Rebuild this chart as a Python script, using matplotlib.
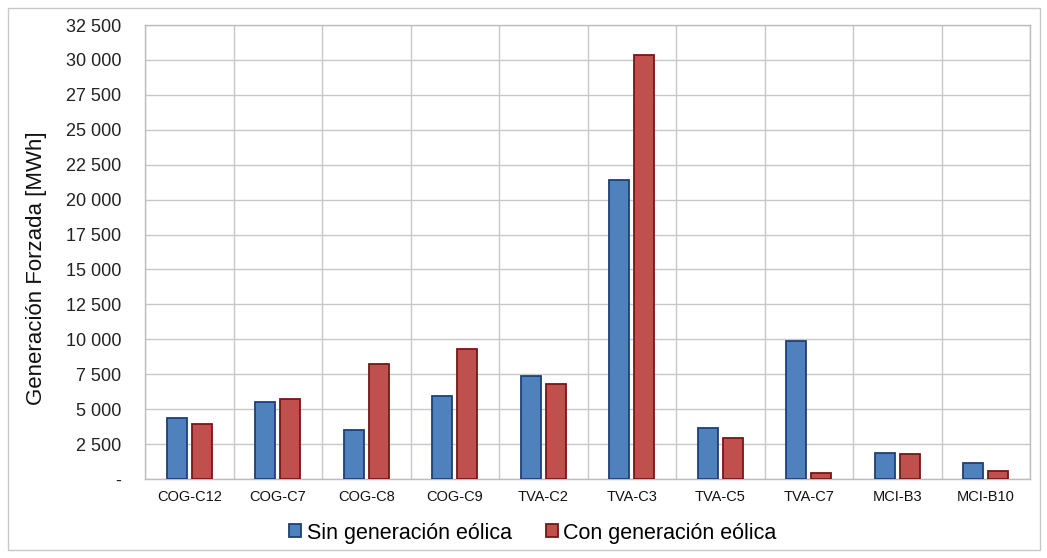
import matplotlib
matplotlib.use("Agg")
import matplotlib.pyplot as plt
import numpy as np
from matplotlib.patches import Rectangle
from matplotlib.ticker import FuncFormatter, MultipleLocator

categories = ["COG-C12", "COG-C7", "COG-C8", "COG-C9", "TVA-C2", "TVA-C3",
              "TVA-C5", "TVA-C7", "MCI-B3", "MCI-B10"]
sin_eolica = [4380, 5510, 3510, 5940, 7370, 21400, 3650, 9880, 1860, 1150]
con_eolica = [3940, 5730, 8230, 9300, 6800, 30350, 2930, 430, 1790, 570]
series_labels = ["Sin generación eólica", "Con generación eólica"]

plt.rcParams['font.family'] = ['Liberation Sans', 'DejaVu Sans']

fig = plt.figure(figsize=(10.47, 5.58), dpi=100)
ax = fig.add_axes([145/1047, 1-479/558, (1030-145)/1047, (479-25)/558])

x = np.arange(len(categories))
w = 0.225
b1 = ax.bar(x - 0.143, sin_eolica, w, color="#4F81BD", edgecolor="#1F3F77",
            linewidth=1.3, label=series_labels[0], zorder=3)
b2 = ax.bar(x + 0.140, con_eolica, w, color="#C0504D", edgecolor="#7A1616",
            linewidth=1.3, label=series_labels[1], zorder=3)

ax.set_xlim(-0.5, len(categories) - 0.5)
ax.set_ylim(0, 32500)
ax.yaxis.set_major_locator(MultipleLocator(2500))

def fmt(v, pos):
    if v == 0:
        return "-"
    return f"{int(v):,}".replace(",", " ")
ax.yaxis.set_major_formatter(FuncFormatter(fmt))

ax.set_xticks(x)
ax.set_xticklabels(categories, fontsize=10.5)
ax.set_xticks(np.arange(-0.5, len(categories)), minor=True)
ax.tick_params(axis='x', which='both', length=0, pad=8)
ax.tick_params(axis='y', length=0, labelsize=13, pad=17, colors="#222222")
ax.tick_params(axis='x', colors="#111111")

ax.grid(True, axis='y', color="#C8C8C8", linewidth=1.0, zorder=0)
ax.grid(True, axis='x', which='minor', color="#C8C8C8", linewidth=1.0, zorder=0)
ax.grid(False, axis='x', which='major')
for s in ax.spines.values():
    s.set_color("#BDBDBD")
    s.set_linewidth(1.0)

fig.text(37/1047, 1-268/558, "Generación Forzada [MWh]", rotation=90,
         ha='center', va='center', fontsize=16, color="#111111")

fig.legend(handles=[b1, b2], labels=series_labels, loc='center',
           bbox_to_anchor=(533/1047, 1-533/558), ncol=2, frameon=False,
           fontsize=15.5, handlelength=0.55, handleheight=0.55, handletextpad=0.25,
           columnspacing=1.6)

fig.patches.append(Rectangle((8/1047, 8/558), (1040-8)/1047, (550-8)/558,
                             transform=fig.transFigure, fill=False,
                             edgecolor="#C8C8C8", linewidth=1.0))

fig.savefig("out.png", dpi=100)
